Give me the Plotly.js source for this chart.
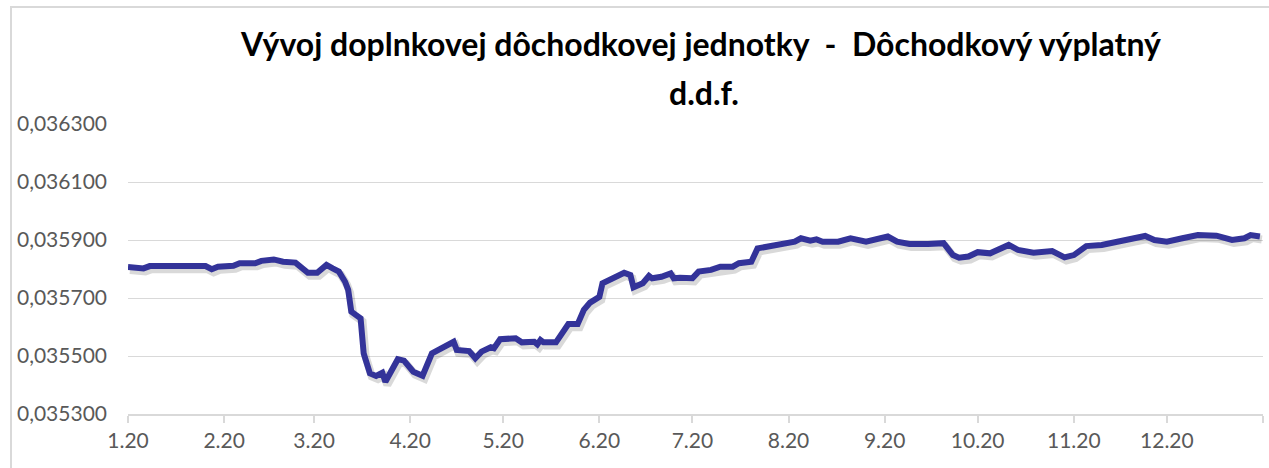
<!DOCTYPE html>
<html>
<head>
<meta charset="utf-8">
<script src="https://cdn.plot.ly/plotly-3.0.1.min.js"></script>
<style>
  html, body { margin: 0; padding: 0; background: #ffffff; }
  #chart { width: 1269px; height: 468px; }
</style>
</head>
<body>
<div id="chart"></div>
<script>
// ---- data ----
const dates = [
  '2020-01-01','2020-01-06','2020-01-08','2020-01-16','2020-01-21','2020-01-26','2020-01-28','2020-01-30',
  '2020-02-04','2020-02-06','2020-02-11','2020-02-13','2020-02-17','2020-02-20','2020-02-24','2020-02-26','2020-02-28',
  '2020-03-02','2020-03-05','2020-03-07','2020-03-09','2020-03-11','2020-03-12','2020-03-13','2020-03-16','2020-03-17',
  '2020-03-19','2020-03-21','2020-03-23','2020-03-24','2020-03-26','2020-03-28','2020-03-30',
  '2020-04-02','2020-04-05','2020-04-08','2020-04-15','2020-04-16','2020-04-20','2020-04-22','2020-04-24','2020-04-27','2020-04-28','2020-04-30',
  '2020-05-05','2020-05-07','2020-05-11','2020-05-12','2020-05-13','2020-05-14','2020-05-18','2020-05-22','2020-05-25','2020-05-27','2020-05-29',
  '2020-06-01','2020-06-02','2020-06-04','2020-06-09','2020-06-11','2020-06-12','2020-06-15','2020-06-17','2020-06-18','2020-06-21','2020-06-24','2020-06-25','2020-06-27',
  '2020-07-01','2020-07-03','2020-07-07','2020-07-10','2020-07-14','2020-07-16','2020-07-20','2020-07-22','2020-07-25','2020-07-29',
  '2020-08-03','2020-08-05','2020-08-08','2020-08-10','2020-08-12','2020-08-17','2020-08-21','2020-08-26',
  '2020-09-02','2020-09-05','2020-09-09','2020-09-15','2020-09-20','2020-09-23','2020-09-25','2020-09-28',
  '2020-10-01','2020-10-05','2020-10-11','2020-10-14','2020-10-17','2020-10-19','2020-10-25','2020-10-29',
  '2020-11-01','2020-11-05','2020-11-10','2020-11-15','2020-11-19','2020-11-24','2020-11-27',
  '2020-12-01','2020-12-06','2020-12-11','2020-12-17','2020-12-22','2020-12-26','2020-12-28','2020-12-31'
];
const values = [
  0.035807,0.035802,0.035810,0.035811,0.035814,0.035810,0.035799,0.035808,
  0.035811,0.035820,0.035820,0.035828,0.035833,0.035825,0.035822,0.035802,0.035787,
  0.035787,0.035814,0.035802,0.035791,0.035756,0.035728,0.035653,0.035630,0.035509,
  0.035440,0.035431,0.035442,0.035411,0.035446,0.035489,0.035484,
  0.035446,0.035432,0.035509,0.035549,0.035521,0.035517,0.035492,0.035515,0.035530,0.035527,0.035558,
  0.035561,0.035547,0.035549,0.035540,0.035555,0.035547,0.035547,0.035610,0.035610,0.035659,0.035684,
  0.035704,0.035751,0.035762,0.035787,0.035779,0.035737,0.035751,0.035776,0.035768,0.035773,0.035785,0.035768,0.035770,
  0.035768,0.035791,0.035797,0.035808,0.035808,0.035820,0.035825,0.035871,0.035877,0.035889,
  0.035894,0.035906,0.035898,0.035902,0.035894,0.035894,0.035906,0.035894,
  0.035912,0.035894,0.035886,0.035886,0.035889,0.035848,0.035839,0.035843,
  0.035858,0.035854,0.035883,0.035866,0.035862,0.035856,0.035862,0.035840,
  0.035848,0.035879,0.035883,0.035894,0.035906,0.035914,0.035900,
  0.035894,0.035906,0.035917,0.035915,0.035900,0.035906,0.035917,0.035912
];
const tickDates = ['2020-01-01','2020-02-01','2020-03-01','2020-04-01','2020-05-01','2020-06-01',
                   '2020-07-01','2020-08-01','2020-09-01','2020-10-01','2020-11-01','2020-12-01','2021-01-01'];
const tickLabels = ['1.20','2.20','3.20','4.20','5.20','6.20','7.20','8.20','9.20','10.20','11.20','12.20',''];
const titleLine1 = 'Vývoj doplnkovej dôchodkovej jednotky  -  Dôchodkový výplatný';
const titleLine2 = 'd.d.f.';

// ---- chart ----
const FONT = 'Lato, "Open Sans", sans-serif';
const yRange = [0.0353, 0.0363];
const xRange = ['2020-01-01', '2021-01-01'];
const PL = 128, PR = 1263, PT = 124, PB = 414;

const traces = [
  { // invisible carrier so the main x/y subplot (grid, ticks, labels) exists
    x: dates, y: values, type: 'scatter', mode: 'lines',
    xaxis: 'x', yaxis: 'y', hoverinfo: 'skip',
    line: { color: 'rgba(0,0,0,0)', width: 0 }
  },
  { // soft drop shadow: same data on slightly shifted overlay axes
    x: dates, y: values, type: 'scatter', mode: 'lines',
    xaxis: 'x2', yaxis: 'y2', hoverinfo: 'skip',
    line: { color: 'rgba(0,0,0,0.15)', width: 8 }
  },
  {
    x: dates, y: values, type: 'scatter', mode: 'lines',
    xaxis: 'x3', yaxis: 'y3',
    line: { color: '#333399', width: 6 }
  }
];

const hidden = { showgrid: false, zeroline: false, showline: false, showticklabels: false, ticks: '' };

const layout = {
  width: 1269, height: 468,
  margin: { l: PL, r: 1269 - PR, t: PT, b: 468 - PB },
  paper_bgcolor: '#ffffff', plot_bgcolor: '#ffffff',
  separators: ', ',
  showlegend: false,
  font: { family: FONT, color: '#595959', size: 21 },
  title: {
    text: titleLine1,
    font: { family: FONT, size: 32, color: '#000000', weight: 'bold' },
    xref: 'container', yref: 'container',
    x: 701 / 1269, xanchor: 'center',
    y: 1 - 45 / 468, yanchor: 'middle'
  },
  annotations: [{
    text: titleLine2, showarrow: false,
    xref: 'paper', yref: 'paper',
    x: (704 - PL) / (PR - PL), xanchor: 'center',
    y: (PB - 92) / (PB - PT), yanchor: 'middle',
    font: { family: FONT, size: 32, color: '#000000', weight: 'bold' }
  }],
  xaxis: {
    type: 'date', range: xRange,
    tickmode: 'array', tickvals: tickDates, ticktext: tickLabels,
    ticks: 'outside', ticklen: 7, tickwidth: 2, tickcolor: '#d9d9d9',
    showline: true, linecolor: '#d9d9d9', linewidth: 2,
    showgrid: false, zeroline: false,
    tickfont: { family: FONT, size: 21, color: '#595959' }
  },
  yaxis: {
    range: yRange, tickmode: 'linear', tick0: 0.0353, dtick: 0.0002,
    tickformat: '.6f',
    showgrid: true, gridcolor: '#d9d9d9', gridwidth: 1,
    zeroline: false, showline: false, ticks: '',
    ticklabelstandoff: 20,
    tickfont: { family: FONT, size: 21, color: '#595959' }
  },
  xaxis2: Object.assign({ type: 'date', overlaying: 'x', range: ['2019-12-31 09:00', '2020-12-31 09:00'] }, hidden),
  yaxis2: Object.assign({ overlaying: 'y', range: [yRange[0] + 0.0000105, yRange[1] + 0.0000105] }, hidden),
  xaxis3: Object.assign({ type: 'date', overlaying: 'x', range: xRange }, hidden),
  yaxis3: Object.assign({ overlaying: 'y', range: yRange }, hidden),
  shapes: [{
    type: 'rect', xref: 'paper', yref: 'paper',
    x0: (11 - PL) / (PR - PL), x1: (1290 - PL) / (PR - PL),
    y0: -1, y1: (PB - 7) / (PB - PT),
    line: { color: '#d9d9d9', width: 2 }, fillcolor: 'rgba(0,0,0,0)', layer: 'below'
  }]
};

Plotly.newPlot('chart', traces, layout, { displayModeBar: false, staticPlot: true });
</script>
</body>
</html>
